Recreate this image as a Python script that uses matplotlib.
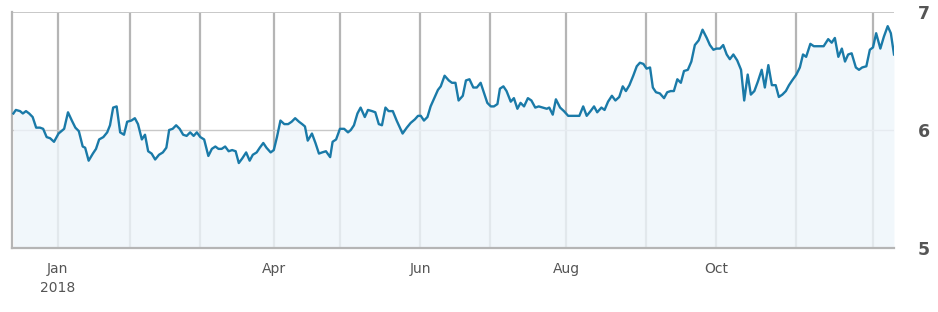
import matplotlib.pyplot as plt

# position in trading sessions and closing value
session = [0.4, 1.1, 2.3, 3.1, 4.0, 4.9, 5.9, 6.9, 8.0, 8.9, 9.9, 10.9, 12.0, 13.3, 14.9, 16.0,
           17.1, 18.1, 19.1, 20.2, 20.9, 21.9, 23.1, 24.0, 24.9, 26.1, 27.2, 28.0, 28.9, 29.9,
           30.9, 32.0, 32.9, 34.1, 35.1, 36.0, 37.1, 38.0, 38.9, 39.9, 40.9, 42.0, 43.1, 44.1,
           44.9, 45.9, 46.9, 47.9, 48.9, 49.9, 50.9, 51.9, 52.8, 53.8, 54.9, 56.1, 57.1, 58.1,
           59.0, 59.9, 60.9, 61.9, 62.9, 63.9, 64.8, 65.8, 66.9, 67.9, 68.8, 69.9, 70.8, 71.8,
           72.7, 73.9, 74.8, 75.7, 76.7, 77.8, 78.9, 79.9, 80.9, 82.0, 82.9, 83.7, 84.5, 85.7,
           86.7, 87.7, 88.6, 89.7, 90.9, 91.6, 92.6, 93.7, 94.9, 96.0, 96.8, 97.7, 98.7, 99.6,
           100.8, 101.7, 102.9, 103.8, 104.8, 105.7, 106.7, 107.6, 108.8, 109.9, 111.6, 112.8,
           113.9, 115.1, 116.0, 116.8, 117.7, 118.7, 119.6, 120.8, 121.7, 122.5, 123.6, 124.8,
           125.7, 126.7, 127.6, 128.8, 129.7, 130.7, 131.8, 132.8, 133.9, 134.9, 135.8, 136.8,
           137.7, 138.7, 139.4, 140.4, 141.3, 142.5, 143.4, 144.4, 145.3, 146.3, 147.4, 148.4,
           149.5, 150.5, 151.6, 152.8, 153.5, 154.5, 155.4, 156.6, 157.7, 158.9, 159.8, 160.9,
           162.1, 163.2, 164.2, 165.3, 166.3, 167.2, 168.4, 169.3, 170.3, 171.4, 172.4, 173.5,
           174.5, 175.4, 176.4, 177.5, 178.5, 179.4, 180.4, 181.3, 182.3, 183.1, 184.0, 185.1,
           186.3, 187.2, 188.2, 189.1, 190.1, 191.1, 192.0, 193.1, 194.1, 195.1, 196.2, 197.3,
           198.5, 199.4, 200.4, 201.3, 202.3, 203.2, 204.2, 205.1, 206.1, 207.2, 208.3, 209.2,
           210.2, 211.1, 212.1, 213.1, 214.2, 215.1, 216.1, 217.1, 218.2, 219.1, 220.1, 221.1,
           222.0, 222.9, 224.1, 225.1, 226.0, 226.9, 228.1, 229.1, 230.2, 231.1, 231.9, 233.2,
           234.2, 235.1, 236.1, 237.1, 238.0, 238.9, 239.9, 241.1, 242.0, 242.9, 244.1, 245.1,
           246.0, 246.9, 248.1, 249.1, 250.2, 251.1, 252.0]
close = [6.14, 6.17, 6.16, 6.14, 6.16, 6.14, 6.11, 6.02, 6.02, 6.01, 5.94, 5.93, 5.90, 5.97, 6.01, 6.15,
         6.08, 6.02, 5.99, 5.86, 5.85, 5.74, 5.80, 5.84, 5.92, 5.94, 5.98, 6.04, 6.19, 6.20,
         5.98, 5.96, 6.07, 6.08, 6.10, 6.05, 5.92, 5.96, 5.82, 5.80, 5.75, 5.79, 5.81, 5.85,
         6.00, 6.01, 6.04, 6.01, 5.96, 5.95, 5.98, 5.95, 5.98, 5.94, 5.92, 5.78, 5.84, 5.86,
         5.84, 5.84, 5.86, 5.82, 5.83, 5.82, 5.72, 5.76, 5.81, 5.74, 5.79, 5.81, 5.85, 5.89,
         5.85, 5.81, 5.83, 5.94, 6.08, 6.05, 6.05, 6.07, 6.10, 6.07, 6.05, 6.03, 5.91, 5.97,
         5.89, 5.80, 5.81, 5.82, 5.77, 5.90, 5.92, 6.01, 6.01, 5.98, 6.00, 6.04, 6.14, 6.19,
         6.11, 6.17, 6.16, 6.15, 6.05, 6.04, 6.19, 6.16, 6.16, 6.08, 5.97, 6.02,
         6.06, 6.09, 6.12, 6.12, 6.08, 6.11, 6.20, 6.28, 6.34, 6.37, 6.46, 6.42,
         6.40, 6.40, 6.25, 6.29, 6.42, 6.43, 6.36, 6.36, 6.40, 6.31, 6.23, 6.20,
         6.20, 6.22, 6.35, 6.37, 6.33, 6.24, 6.27, 6.18, 6.23, 6.20, 6.27, 6.25,
         6.19, 6.20, 6.19, 6.18, 6.19, 6.13, 6.26, 6.19, 6.16, 6.12, 6.12, 6.12,
         6.12, 6.20, 6.12, 6.16, 6.20, 6.15, 6.19, 6.17, 6.24, 6.29, 6.25, 6.28,
         6.37, 6.33, 6.38, 6.46, 6.54, 6.57, 6.56, 6.52, 6.53, 6.36, 6.32, 6.31,
         6.27, 6.32, 6.33, 6.33, 6.43, 6.40, 6.50, 6.51, 6.58, 6.72, 6.76, 6.85,
         6.78, 6.72, 6.68, 6.69, 6.69, 6.72, 6.64, 6.60, 6.64, 6.59, 6.51, 6.25,
         6.47, 6.30, 6.33, 6.41, 6.51, 6.36, 6.55, 6.38, 6.38, 6.28, 6.30, 6.33,
         6.38, 6.42, 6.47, 6.53, 6.64, 6.62, 6.73, 6.71, 6.71, 6.71, 6.71, 6.77,
         6.74, 6.78, 6.62, 6.69, 6.58, 6.64, 6.65, 6.53, 6.51, 6.53, 6.54, 6.68,
         6.70, 6.82, 6.69, 6.79, 6.88, 6.82, 6.64]

# first session of each month
month_start = [13.1, 33.7, 53.7, 74.9, 93.7, 116.6, 136.6, 158.3, 181.1, 201.1, 224.0, 246.0]
month_names = ["Jan\n2018", "", "", "Apr", "", "Jun", "", "Aug", "", "Oct", "", ""]

fig = plt.figure(figsize=(9.38, 3.12), dpi=100)
ax = fig.add_axes([12 / 938, 64 / 312, 882 / 938, 236 / 312])

# month grid, drawn under the fill so it fades below the line
for m in month_start:
  ax.axvline(m, color="#b5b5b5", lw=1.6, zorder=1)
ax.axhline(6, color="#c8c8c8", lw=1.0, zorder=1)
ax.axhline(7, color="#c8c8c8", lw=1.4, zorder=1)

ax.fill_between(session, close, 5, color="#eef5fb", alpha=0.8, lw=0, zorder=2)
ax.plot(session, close, color="#1a7aa8", lw=1.7, zorder=3)

ax.set_xlim(0, 252)
ax.set_ylim(5, 7)

for s in ["top", "right"]:
  ax.spines[s].set_visible(False)
ax.spines["left"].set_color("#b5b5b5")
ax.spines["left"].set_linewidth(1.6)
ax.spines["bottom"].set_color("#b5b5b5")
ax.spines["bottom"].set_linewidth(1.6)

ax.set_xticks(month_start)
ax.set_xticklabels(month_names, fontsize=10, color="#555555", linespacing=1.5)
ax.tick_params(axis="x", length=0, pad=10)

ax.yaxis.tick_right()
ax.set_yticks([5, 6, 7])
ax.set_yticklabels(["5", "6", "7"], fontsize=12.5, fontweight="bold", color="#555555")
ax.tick_params(axis="y", length=0, pad=17)

plt.savefig("out.png", dpi=100)
